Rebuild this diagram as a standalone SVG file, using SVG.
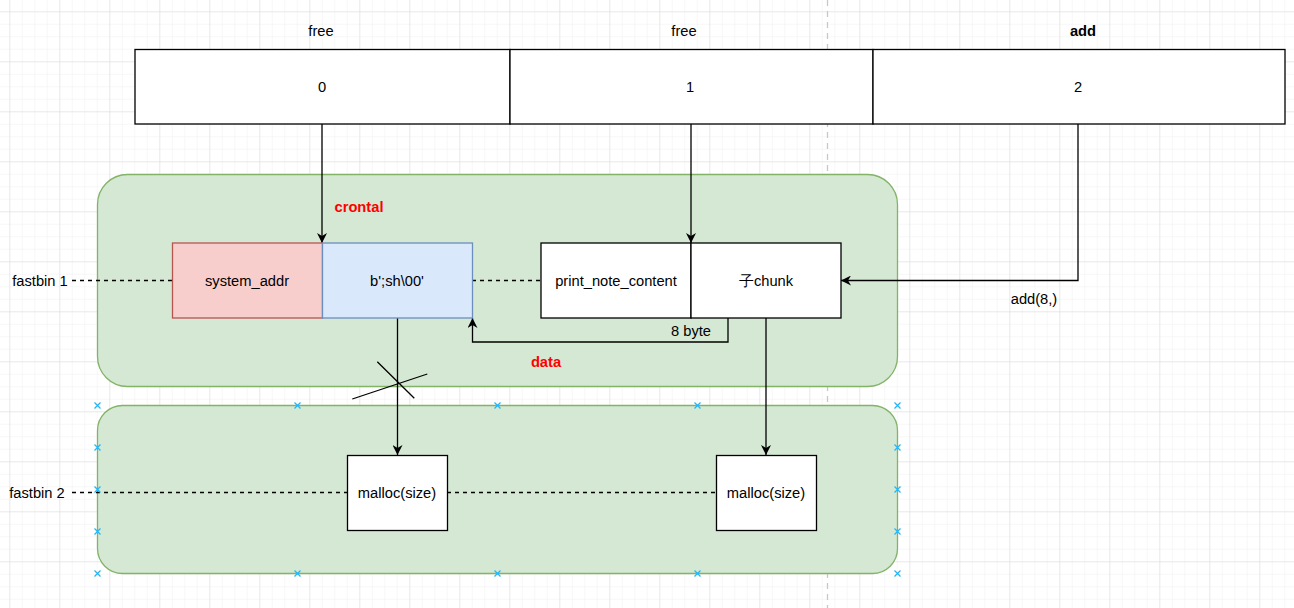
<svg xmlns="http://www.w3.org/2000/svg" width="1294" height="608" viewBox="0 0 1294 608">
<defs>
<pattern id="minor" x="9.3" y="11.3" width="12.5" height="12.5" patternUnits="userSpaceOnUse">
<path d="M0 0H12.5M0 0V12.5" fill="none" stroke="#f0f0f0" stroke-width="1"/>
</pattern>
<pattern id="major" x="9.3" y="11.3" width="50" height="50" patternUnits="userSpaceOnUse">
<path d="M0 0H50M0 0V50" fill="none" stroke="#dcdcdc" stroke-width="1"/>
</pattern>
<marker id="arr" viewBox="0 0 10 10" refX="10" refY="5" markerWidth="10" markerHeight="10" markerUnits="userSpaceOnUse" orient="auto">
<path d="M0 0L10 5L0 10L3 5Z" fill="#000"/>
</marker>
<g id="xm"><path d="M-3 -3L3 3M-3 3L3 -3" stroke="#29b6f2" stroke-width="1.3"/></g>
</defs>
<style>
text{font-family:"Liberation Sans",Arial,sans-serif;font-size:14.7px;fill:#000;text-anchor:middle;dominant-baseline:central}
.b{font-weight:bold}
.red{fill:#ff0000;font-weight:bold}
.box{fill:#fff;stroke:#000;stroke-width:1.3}
.green{fill:#d5e8d4;stroke:#82b366;stroke-width:1.3}
.pink{fill:#f8cecc;stroke:#b85450;stroke-width:1.3}
.blue{fill:#dae8fc;stroke:#6c8ebf;stroke-width:1.3}
.ln{fill:none;stroke:#000;stroke-width:1.3}
.dash{fill:none;stroke:#000;stroke-width:1.3;stroke-dasharray:4 4}
</style>
<rect width="1294" height="608" fill="#fff"/>
<rect width="1294" height="608" fill="url(#minor)"/>
<rect width="1294" height="608" fill="url(#major)"/>
<path d="M827.5 0V608" stroke="#c8c8c8" stroke-width="1.3" stroke-dasharray="6 5"/>

<g id="containers">
<rect id="fastbin1-area" class="green" x="97.5" y="174.5" width="800" height="212" rx="30"/>
<rect id="fastbin2-area" class="green" x="97.5" y="405.5" width="800" height="168" rx="25"/>
</g>

<g id="array">
<g id="slot0"><rect class="box" x="135" y="49.5" width="375" height="74.5"/><text x="322" y="87">0</text><text x="321" y="31">free</text></g>
<g id="slot1"><rect class="box" x="510" y="49.5" width="363" height="74.5"/><text x="690" y="87">1</text><text x="684" y="31">free</text></g>
<g id="slot2"><rect class="box" x="873" y="49.5" width="412" height="74.5"/><text x="1078" y="87">2</text><text class="b" x="1083" y="31">add</text></g>
</g>

<g id="connectors">
<path class="dash" d="M72 280.5H172"/>
<path class="dash" d="M472 280.5H541"/>
<path class="dash" d="M72 492.5H347"/>
<path class="dash" d="M447 492.5H716"/>
<path class="ln" d="M322 124V243" marker-end="url(#arr)"/>
<path class="ln" d="M691 124V243" marker-end="url(#arr)"/>
<path class="ln" d="M1078 124V280.5H841" marker-end="url(#arr)"/>
<path class="ln" d="M397.5 318V455" marker-end="url(#arr)"/>
<path class="ln" d="M766 318V455" marker-end="url(#arr)"/>
<path class="ln" d="M728 318V342H472.5V318" marker-end="url(#arr)"/>
<path class="ln" d="M377.3 361.7L414.3 398.3M352.3 399L427.3 374"/>
</g>

<g id="system_addr"><rect class="pink" x="172.5" y="243" width="150" height="75"/><text x="247" y="281">system_addr</text></g>
<g id="sh"><rect class="blue" x="322.5" y="243" width="150" height="75"/><text x="397" y="281">b';sh\00'</text></g>
<g id="print_note_content"><rect class="box" x="541" y="243" width="150" height="75"/><text x="616" y="281">print_note_content</text></g>
<g id="chunk"><rect class="box" x="691" y="243" width="150" height="75"/><text x="766" y="281">子chunk</text></g>
<g id="malloc1"><rect class="box" x="347.5" y="455.5" width="100" height="75"/><text x="397" y="493">malloc(size)</text></g>
<g id="malloc2"><rect class="box" x="716.5" y="455.5" width="100" height="75"/><text x="766" y="493">malloc(size)</text></g>

<g id="labels">
<text class="red" x="359" y="207">crontal</text>
<text class="red" x="546" y="362">data</text>
<text x="691" y="331">8 byte</text>
<text x="1034" y="299">add(8,)</text>
<text x="40" y="281">fastbin 1</text>
<text x="37" y="493">fastbin 2</text>
</g>

<g id="handles">
<use href="#xm" x="97.5" y="405.5"/><use href="#xm" x="297.5" y="405.5"/><use href="#xm" x="497.5" y="405.5"/><use href="#xm" x="697.5" y="405.5"/><use href="#xm" x="897.5" y="405.5"/>
<use href="#xm" x="97.5" y="573.5"/><use href="#xm" x="297.5" y="573.5"/><use href="#xm" x="497.5" y="573.5"/><use href="#xm" x="697.5" y="573.5"/><use href="#xm" x="897.5" y="573.5"/>
<use href="#xm" x="97.5" y="447.5"/><use href="#xm" x="97.5" y="489.5"/><use href="#xm" x="97.5" y="531.5"/>
<use href="#xm" x="897.5" y="447.5"/><use href="#xm" x="897.5" y="489.5"/><use href="#xm" x="897.5" y="531.5"/>
</g>
</svg>
